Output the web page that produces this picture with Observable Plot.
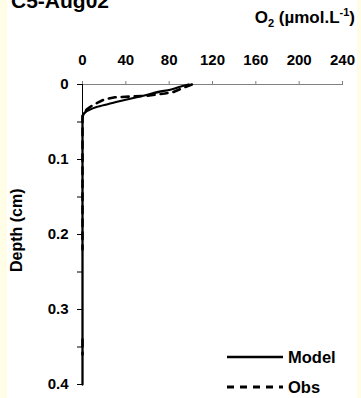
<!DOCTYPE html>
<html>
<head>
<meta charset="utf-8">
<script src="https://cdn.jsdelivr.net/npm/d3@7"></script>
<script src="https://cdn.jsdelivr.net/npm/@observablehq/plot@0.6"></script>
<style>
  html, body { margin: 0; padding: 0; background: #ffffff; }
  #wrap { position: relative; width: 361px; height: 398px; overflow: hidden; font-family: "Liberation Sans", Arial, sans-serif; font-weight: bold; color: #000; }
  .strip { position: absolute; top: 0; height: 398px; background: #FFFDE6; }
  .abs { position: absolute; white-space: nowrap; line-height: 1.15; }
  #plot { position: absolute; left: 0; top: 0; }
  sub, sup { font-size: 11px; line-height: 0; }
</style>
</head>
<body>
<div id="wrap">
  <div class="strip" style="left:0;width:7px"></div>
  <div class="strip" style="left:357px;width:4px"></div>
  <div id="plot"></div>
  <div class="abs" id="title" style="left:11px;top:-11px;font-size:21px;">C5-Aug02</div>
  <div class="abs" id="xlab" style="right:6px;top:8px;font-size:17px;">O<sub>2</sub> (µmol.L<sup>-1</sup>)</div>
  <div class="abs" id="ylab" style="left:-33px;top:221px;font-size:16px;width:100px;text-align:center;transform:rotate(-90deg);">Depth (cm)</div>
  <div id="legend"></div>
</div>
<script>
// Data
const seriesNames = ["Model", "Obs"];
const modelO2    = [98, 90, 81, 70, 59, 47, 35, 24, 13, 6, 2.5, 0.8, 0, 0];
const modelDepth = [0, 0.003, 0.007, 0.010, 0.014, 0.018, 0.022, 0.026, 0.030, 0.034, 0.037, 0.040, 0.045, 0.4];
const obsO2      = [101, 92, 84, 76, 60, 45, 30, 20, 10, 5, 2, 0, 0, NaN, 0, 0];
const obsDepth   = [0, 0.005, 0.010, 0.012, 0.015, 0.016, 0.017, 0.020, 0.027, 0.032, 0.036, 0.042, 0.22, NaN, 0.34, 0.36];
const xTicks = [0, 40, 80, 120, 160, 200, 240];
const yTicks = [0, 0.05, 0.1, 0.15, 0.2, 0.25, 0.3, 0.35, 0.4];
const yLabels = ["0", "", "0.1", "", "0.2", "", "0.3", "", "0.4"];

const model = modelO2.map((v, i) => ({o2: v, depth: modelDepth[i]}));
const obs = obsO2.map((v, i) => ({o2: v, depth: obsDepth[i]}));

const chart = Plot.plot({
  width: 361,
  height: 398,
  marginTop: 84,
  marginLeft: 82,
  marginRight: 19,
  marginBottom: 14,
  style: {fontFamily: "Liberation Sans, Arial, sans-serif", fontSize: "15px", fontWeight: "bold", background: "transparent", color: "#000", overflow: "visible"},
  x: {domain: [0, 240]},
  y: {domain: [0, 0.4], reverse: true},
  marks: [
    Plot.ruleY([0], {stroke: "#808080", strokeWidth: 1}),
    Plot.axisX({anchor: "top", ticks: xTicks, tickSize: 4, tickPadding: 16, stroke: "#808080", fill: "#000", label: null, tickFormat: d => String(d)}),
    Plot.axisY({ticks: yTicks, tickSize: 5, tickPadding: 9, label: null, tickFormat: d => yLabels[yTicks.findIndex(t => Math.abs(t - d) < 1e-9)]}),
    Plot.ruleX([0], {stroke: "#000", strokeWidth: 1}),
    Plot.line(model, {x: "o2", y: "depth", stroke: "#000", strokeWidth: 2.3, curve: "monotone-y"}),
    Plot.line(obs, {x: "o2", y: "depth", stroke: "#000", strokeWidth: 2.6, strokeDasharray: "7,6", curve: "linear"})
  ]
});
document.getElementById("plot").appendChild(chart);

// Legend
const legend = document.getElementById("legend");
const legendItems = [
  {name: seriesNames[0], dash: null, width: 2.6, top: 357},
  {name: seriesNames[1], dash: "7,6", width: 3.2, top: 387}
];
for (const it of legendItems) {
  const row = document.createElement("div");
  row.className = "abs";
  row.style.left = "227px";
  row.style.top = (it.top - 10) + "px";
  row.style.height = "20px";
  row.style.display = "flex";
  row.style.alignItems = "center";
  const svg = d3.create("svg").attr("width", 56).attr("height", 20);
  svg.append("line").attr("x1", 0).attr("x2", 56).attr("y1", 10).attr("y2", 10)
    .attr("stroke", "#000").attr("stroke-width", it.width)
    .attr("stroke-dasharray", it.dash);
  row.appendChild(svg.node());
  const t = document.createElement("span");
  t.textContent = it.name;
  t.style.fontSize = "16.5px";
  t.style.marginLeft = "5px";
  row.appendChild(t);
  legend.appendChild(row);
}
</script>
</body>
</html>
